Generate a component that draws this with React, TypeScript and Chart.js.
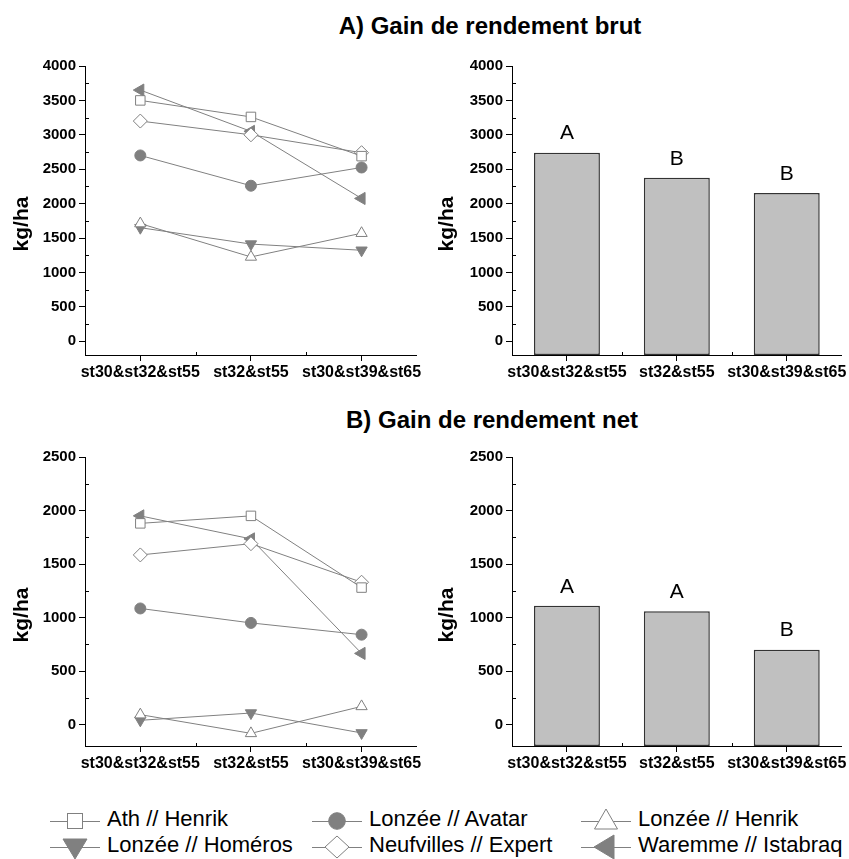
import React, { useEffect, useRef } from 'react';
import { Chart, registerables } from 'chart.js';

Chart.register(...registerables);

const FONT = "'Liberation Sans', Arial, Helvetica, sans-serif";
const GRAY = '#808080';

// ---------- data ----------
const categories = ['st30&st32&st55', 'st32&st55', 'st30&st39&st65'];
const seriesNames = [
  'Ath // Henrik',
  'Lonzée // Avatar',
  'Lonzée // Henrik',
  'Lonzée // Homéros',
  'Neufvilles // Expert',
  'Waremme // Istabraq',
];

// A) gross yield gain (kg/ha)
const brutAthHenrik = [3500, 3260, 2690];
const brutLonzeeAvatar = [2700, 2260, 2525];
const brutLonzeeHenrik = [1710, 1225, 1570];
const brutLonzeeHomeros = [1650, 1412, 1322];
const brutNeufvillesExpert = [3200, 3000, 2740];
const brutWaremmeIstabraq = [3650, 3050, 2075];
const brutMeans = [2740, 2375, 2155];
const brutLetters = ['A', 'B', 'B'];

// B) net yield gain (kg/ha)
const netAthHenrik = [1880, 1950, 1280];
const netLonzeeAvatar = [1085, 950, 840];
const netLonzeeHenrik = [93, -82, 170];
const netLonzeeHomeros = [40, 108, -78];
const netNeufvillesExpert = [1585, 1690, 1330];
const netWaremmeIstabraq = [1950, 1735, 665];
const netMeans = [1110, 1060, 700];
const netLetters = ['A', 'A', 'B'];

const yAxisMin = -200;
const brutYMax = 4000;
const netYMax = 2500;
const brutYTicks = [0, 500, 1000, 1500, 2000, 2500, 3000, 3500, 4000];
const brutYMinor = [250, 750, 1250, 1750, 2250, 2750, 3250, 3750];
const netYTicks = [0, 500, 1000, 1500, 2000, 2500];
const netYMinor = [250, 750, 1250, 1750, 2250];

const titleA = 'A) Gain de rendement brut';
const titleB = 'B) Gain de rendement net';
const yTitle = 'kg/ha';

// ---------- styles ----------
const markerStyles = [
  { pointStyle: 'rect', radius: 6.7, rotation: 0, filled: false },
  { pointStyle: 'circle', radius: 5.5, rotation: 0, filled: true },
  { pointStyle: 'triangle', radius: 6.5, rotation: 0, filled: false },
  { pointStyle: 'triangle', radius: 6.5, rotation: 180, filled: true },
  { pointStyle: 'rectRot', radius: 7, rotation: 0, filled: false },
  { pointStyle: 'triangle', radius: 7, rotation: 270, filled: true },
];

const minorTicksPlugin = {
  id: 'minorTicks',
  afterDraw(chart: any, _args: any, opts: any) {
    const { ctx, chartArea, scales } = chart;
    ctx.save();
    ctx.strokeStyle = '#000';
    ctx.lineWidth = 1;
    (opts.yMinor || []).forEach((v: number) => {
      const y = Math.round(scales.y.getPixelForValue(v)) + 0.5;
      ctx.beginPath();
      ctx.moveTo(chartArea.left, y);
      ctx.lineTo(chartArea.left + 4, y);
      ctx.stroke();
    });
    const n = scales.x.ticks.length;
    for (let i = 1; i < n; i++) {
      const x = Math.round((scales.x.getPixelForTick(i - 1) + scales.x.getPixelForTick(i)) / 2) + 0.5;
      ctx.beginPath();
      ctx.moveTo(x, chartArea.bottom);
      ctx.lineTo(x, chartArea.bottom - 3);
      ctx.stroke();
    }
    ctx.restore();
  },
};

const barLettersPlugin = {
  id: 'barLetters',
  afterDatasetsDraw(chart: any, _args: any, opts: any) {
    const letters: string[] = opts.letters || [];
    if (!letters.length) return;
    const { ctx } = chart;
    const meta = chart.getDatasetMeta(0);
    ctx.save();
    ctx.fillStyle = '#000';
    ctx.font = `21px ${FONT}`;
    ctx.textAlign = 'center';
    ctx.textBaseline = 'middle';
    meta.data.forEach((el: any, i: number) => {
      ctx.fillText(letters[i], el.x, el.y - 19);
    });
    ctx.restore();
  },
};

function yScale(min: number, max: number, tickVals: number[], width: number) {
  return {
    type: 'linear',
    min,
    max,
    afterBuildTicks: (s: any) => {
      s.ticks = tickVals.map((v) => ({ value: v }));
    },
    afterFit: (s: any) => {
      s.width = width;
    },
    grid: { display: true, drawOnChartArea: false, drawTicks: true, tickLength: 6, color: '#000', lineWidth: 1 },
    border: { display: true, color: '#000', width: 1 },
    ticks: {
      color: '#000',
      font: { family: FONT, size: 15, weight: 'bold' },
      padding: 3,
      callback: (v: any) => String(v),
    },
  };
}

function xScale() {
  return {
    type: 'category',
    offset: true,
    afterFit: (s: any) => {
      s.height = 35;
    },
    grid: { display: true, drawOnChartArea: false, drawTicks: true, tickLength: 6, offset: false, color: '#000', lineWidth: 1 },
    border: { display: true, color: '#000', width: 1 },
    ticks: { color: '#000', font: { family: FONT, size: 16, weight: 'bold' }, padding: 2, maxRotation: 0, autoSkip: false },
  };
}

function lineConfig(series: number[][], yMax: number, yTicks: number[], yMinor: number[]): any {
  return {
    type: 'line',
    data: {
      labels: categories,
      datasets: series.map((vals, i) => ({
        label: seriesNames[i],
        data: vals,
        borderColor: GRAY,
        borderWidth: 1,
        tension: 0,
        fill: false,
        pointStyle: markerStyles[i].pointStyle,
        pointRadius: markerStyles[i].radius,
        pointRotation: markerStyles[i].rotation,
        pointBackgroundColor: markerStyles[i].filled ? GRAY : '#ffffff',
        pointBorderColor: GRAY,
        pointBorderWidth: 1,
      })),
    },
    options: {
      responsive: false,
      animation: false,
      layout: { padding: { top: 26, right: 5, left: 0, bottom: 0 }, autoPadding: false },
      plugins: { legend: { display: false }, tooltip: { enabled: false }, minorTicks: { yMinor } },
      scales: { x: xScale(), y: yScale(yAxisMin, yMax, yTicks, 85) },
    },
    plugins: [minorTicksPlugin],
  };
}

function barConfig(values: number[], letters: string[], yMax: number, yTicks: number[], yMinor: number[]): any {
  return {
    type: 'bar',
    data: {
      labels: categories,
      datasets: [
        {
          data: values,
          base: yAxisMin,
          backgroundColor: '#c0c0c0',
          borderColor: '#333333',
          borderWidth: 1.5,
          borderSkipped: false,
          barPercentage: 0.6,
          categoryPercentage: 1,
        },
      ],
    },
    options: {
      responsive: false,
      animation: false,
      layout: { padding: { top: 26, right: 4, left: 0, bottom: 0 }, autoPadding: false },
      plugins: {
        legend: { display: false },
        tooltip: { enabled: false },
        minorTicks: { yMinor },
        barLetters: { letters },
      },
      scales: { x: xScale(), y: yScale(yAxisMin, yMax, yTicks, 88) },
    },
    plugins: [minorTicksPlugin, barLettersPlugin],
  };
}

function ChartBox({ left, top, width, height, make }: { left: number; top: number; width: number; height: number; make: () => any }) {
  const ref = useRef<HTMLCanvasElement>(null);
  useEffect(() => {
    const chart = new Chart(ref.current as HTMLCanvasElement, make());
    return () => chart.destroy();
  }, []);
  return <canvas ref={ref} width={width} height={height} style={{ position: 'absolute', left, top, width, height }} />;
}

function Title({ text, cx, cy }: { text: string; cx: number; cy: number }) {
  return (
    <div
      style={{
        position: 'absolute',
        left: cx - 250,
        top: cy - 15,
        width: 500,
        height: 30,
        lineHeight: '30px',
        textAlign: 'center',
        font: `bold 24px ${FONT}`,
        color: '#000',
        whiteSpace: 'nowrap',
      }}
    >
      {text}
    </div>
  );
}

function YTitle({ cx, cy }: { cx: number; cy: number }) {
  return (
    <div
      style={{
        position: 'absolute',
        left: cx,
        top: cy,
        transform: 'translate(-50%, -50%) rotate(-90deg)',
        font: `bold 21px ${FONT}`,
        lineHeight: '24px',
        color: '#000',
        whiteSpace: 'nowrap',
      }}
    >
      {yTitle}
    </div>
  );
}

function LegendMarker({ index }: { index: number }) {
  const c = 25;
  const m = 15;
  let shape: any = null;
  if (index === 0) shape = <rect x={c - 7.5} y={m - 7.5} width={15} height={15} fill="#fff" stroke={GRAY} />;
  if (index === 1) shape = <circle cx={c} cy={m} r={8.3} fill={GRAY} stroke={GRAY} />;
  if (index === 2) shape = <polygon points={`${c},${m - 12} ${c + 11.5},${m + 8} ${c - 11.5},${m + 8}`} fill="#fff" stroke={GRAY} />;
  if (index === 3) shape = <polygon points={`${c - 12},${m - 8} ${c + 12},${m - 8} ${c},${m + 12}`} fill={GRAY} stroke={GRAY} />;
  if (index === 4) shape = <polygon points={`${c},${m - 11} ${c + 12},${m} ${c},${m + 11} ${c - 12},${m}`} fill="#fff" stroke={GRAY} />;
  if (index === 5) shape = <polygon points={`${c - 12},${m} ${c + 8},${m - 12} ${c + 8},${m + 12}`} fill={GRAY} stroke={GRAY} />;
  return (
    <svg width={50} height={30} style={{ position: 'absolute', left: 0, top: 0, overflow: 'visible' }}>
      <line x1={0} y1={m + 0.5} x2={50} y2={m + 0.5} stroke={GRAY} strokeWidth={1} />
      {shape}
    </svg>
  );
}

const legendCols = [75, 337, 606];
const legendRows = [821, 847];

function Legend() {
  return (
    <>
      {seriesNames.map((name, i) => {
        const cx = legendCols[i % 3];
        const cy = legendRows[Math.floor(i / 3)];
        return (
          <div key={name} style={{ position: 'absolute', left: cx - 25, top: cy - 15, height: 30, width: 260 }}>
            <LegendMarker index={i} />
            <span
              style={{
                position: 'absolute',
                left: 57,
                top: 0,
                height: 30,
                lineHeight: '30px',
                font: `22px ${FONT}`,
                color: '#000',
                whiteSpace: 'nowrap',
              }}
            >
              {name}
            </span>
          </div>
        );
      })}
    </>
  );
}

export default function App() {
  return (
    <div
      style={{
        position: 'fixed',
        left: 0,
        top: 0,
        width: 849,
        height: 859,
        background: '#fff',
        overflow: 'hidden',
      }}
    >
      <Title text={titleA} cx={490} cy={27} />
      <Title text={titleB} cx={492} cy={421} />

      <ChartBox
        left={0}
        top={40}
        width={424}
        height={350}
        make={() =>
          lineConfig(
            [brutAthHenrik, brutLonzeeAvatar, brutLonzeeHenrik, brutLonzeeHomeros, brutNeufvillesExpert, brutWaremmeIstabraq],
            brutYMax,
            brutYTicks,
            brutYMinor
          )
        }
      />
      <ChartBox
        left={424}
        top={40}
        width={425}
        height={350}
        make={() => barConfig(brutMeans, brutLetters, brutYMax, brutYTicks, brutYMinor)}
      />
      <ChartBox
        left={0}
        top={431}
        width={424}
        height={350}
        make={() =>
          lineConfig(
            [netAthHenrik, netLonzeeAvatar, netLonzeeHenrik, netLonzeeHomeros, netNeufvillesExpert, netWaremmeIstabraq],
            netYMax,
            netYTicks,
            netYMinor
          )
        }
      />
      <ChartBox
        left={424}
        top={431}
        width={425}
        height={350}
        make={() => barConfig(netMeans, netLetters, netYMax, netYTicks, netYMinor)}
      />

      <YTitle cx={21} cy={224} />
      <YTitle cx={446} cy={224} />
      <YTitle cx={21} cy={615} />
      <YTitle cx={446} cy={615} />

      <Legend />
    </div>
  );
}
